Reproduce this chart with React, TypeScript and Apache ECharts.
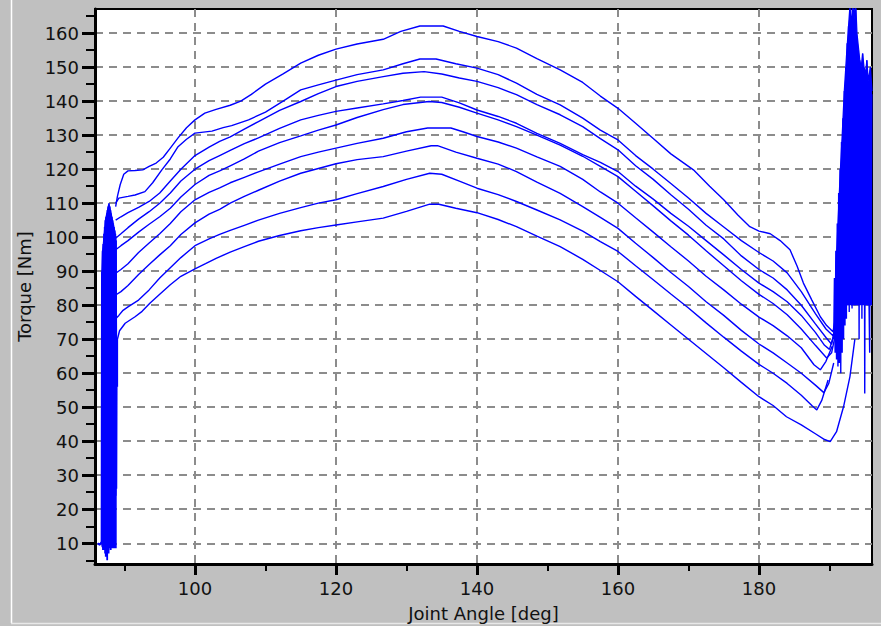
import React, { useEffect, useRef } from "react";
import * as echarts from "echarts";

// ---- axis ticks ----
const X_MAJOR = [100, 120, 140, 160, 180];
const X_MINOR = [90, 110, 130, 150, 170, 190];
const Y_MAJOR = [10, 20, 30, 40, 50, 60, 70, 80, 90, 100, 110, 120, 130, 140, 150, 160];
const Y_MINOR = [5, 15, 25, 35, 45, 55, 65, 75, 85, 95, 105, 115, 125, 135, 145, 155, 165];
const X_MIN = 85.82;
const X_MAX = 196.03;
const Y_MIN = 3.9;
const Y_MAX = 167.1;

// ---- torque curves: [joint angle deg, torque Nm] ----
const curve1 = [
  [88.75, 109], [89.0, 112], [89.4, 115.5], [89.9, 118.5], [90.5, 119.5], [91.5, 119.6], [92.6, 119.8],
  [93.5, 120.8], [94.5, 121.8], [95.5, 123.5], [96.5, 126.2], [97.6, 129.2], [98.8, 132.2], [100, 134.5],
  [101.4, 136.5], [103, 137.6], [105, 138.8], [106.5, 140], [108, 142], [110, 145], [112.5, 148],
  [115, 151.2], [117.5, 153.5], [120, 155.3], [123, 156.8], [126.7, 158.2], [129.2, 160.5], [131.9, 162.1],
  [135.2, 162.1], [137.5, 160.5], [140, 159], [143, 157.5], [145.6, 155.6], [148.5, 152.5], [151.8, 149.2],
  [155, 145.5], [157.5, 141.5], [160, 137.9], [162.5, 133.5], [165, 129], [167.5, 124.5], [170.7, 119.8],
  [173, 115], [175, 111], [177, 106.5], [178.7, 103.1], [180, 101.8], [181.6, 101], [183, 99], [184.4, 96.3],
  [185.4, 91.5], [186.3, 86.5], [187.5, 81.5], [188.7, 76.6], [189.6, 74], [190.5, 72.2], [191, 78],
];
const curve2 = [
  [88.75, 110], [89.2, 111.5], [90.5, 112], [91.5, 112.4], [92.9, 113.4], [94, 116], [95.3, 119.8],
  [96.5, 123], [97.6, 126.6], [98.8, 128.8], [100, 130.6], [102.4, 131.2], [104, 132.2], [105.2, 132.8],
  [107.6, 134.5], [110, 136.8], [112.5, 140], [115, 143.3], [117.5, 144.8], [120, 146.2], [123, 147.8],
  [126.7, 149.2], [129.5, 151], [131.9, 152.4], [134.2, 152.4], [137, 151], [140, 149.7], [143, 147.8],
  [145.6, 145.3], [148.5, 142], [151.8, 138.9], [155, 135], [157.5, 131.5], [160, 128.6], [162.5, 124],
  [165, 120], [167.5, 115.8], [170, 111.5], [172.5, 107], [175, 103], [177.5, 99], [180, 95.5], [182, 93],
  [184, 89.5], [186, 84], [188, 77.5], [189.5, 73], [190.5, 71], [191, 75],
];
const curve3 = [
  [88.75, 105], [89.5, 106], [90.5, 107.2], [92, 108.8], [93.5, 110.5], [95, 113], [96.5, 116.5], [98, 120],
  [100, 124], [102, 126.5], [103.5, 128.2], [105, 129.5], [107, 131.8], [109, 134], [112, 137.3], [115, 139.9],
  [117.5, 142.2], [120, 144.3], [123, 145.8], [126.7, 147.2], [129.5, 148.2], [132.5, 148.7], [135, 148],
  [137.5, 146.8], [140, 145.8], [143, 144], [145.6, 141.9], [148.5, 139], [151.8, 136], [155, 132.5],
  [157.5, 129], [160, 125.7], [162.5, 121], [165, 117], [167.5, 112.5], [170, 108.2], [172.5, 103.5],
  [175, 99.5], [177.5, 94.5], [180, 90.5], [182, 88], [184, 84.5], [186, 80], [188, 74.5], [189.5, 70.5],
  [190.3, 68.5], [190.9, 74],
];
const curve4 = [
  [88.75, 99.7], [89.5, 101], [90.5, 102.8], [92, 105.3], [93.5, 107.5], [95, 110], [96.5, 113], [98, 116.5],
  [100, 120], [102, 122.5], [103.5, 124], [105, 125.5], [107, 127.5], [109, 129.2], [112, 132], [115, 134.5],
  [117.5, 135.8], [120, 137], [123, 138], [126.7, 139.2], [129.5, 140.2], [132, 141.2], [135, 141.2],
  [137.5, 139.5], [140, 137.4], [143, 135.5], [145.6, 133.5], [148.5, 130.5], [151.8, 127.6], [155, 124.3],
  [157.5, 122], [160, 119.3], [162.5, 115], [165, 111.2], [167.5, 107], [170, 103.2], [172.5, 99], [175, 94.8],
  [177.5, 90.5], [180, 86.5], [182, 84], [184, 81], [186, 77], [188, 72], [189.3, 68.2], [190, 67], [190.7, 72],
];
const curve5 = [
  [88.75, 96.3], [89.5, 97.5], [90.5, 99], [92, 101.5], [93.5, 103.8], [95, 106], [96.5, 108.5], [98, 111.8],
  [100, 115.5], [102, 118.2], [103.5, 119.5], [105, 121], [107, 123], [109, 125.3], [112, 127.8], [115, 129.8],
  [117.5, 131.5], [120, 133], [123, 135.2], [126.7, 137.5], [129.5, 139], [133.2, 139.9], [135, 139.6],
  [137.5, 138.2], [140, 136.5], [143, 134.5], [145.6, 132.5], [148.5, 130], [151.8, 127.1], [155, 123.8],
  [157.5, 120.8], [160, 117.8], [162.5, 113.5], [165, 109.2], [167.5, 104.8], [170, 100.6], [172.5, 96],
  [175, 91.6], [177.5, 87.2], [180, 83.2], [182, 80.5], [184, 77.2], [186, 73], [188, 68.2], [189.6, 64.5],
  [190.3, 66], [190.8, 71],
];
const curve6 = [
  [88.75, 89.4], [89.5, 90.5], [90.5, 92.2], [92, 95.5], [93.5, 98.3], [95, 101], [96.5, 104], [98, 107.5],
  [100, 111], [102, 113.2], [103.5, 114.5], [105, 116], [107, 117.6], [109, 119.2], [112, 121.5], [115, 123.7],
  [117.5, 125], [120, 126.2], [123, 127.6], [126.7, 129.1], [130, 131], [133, 132.1], [136.3, 132.1],
  [138, 131], [140, 129.6], [143, 128], [145.6, 126.2], [148.5, 123.6], [151.8, 120.8], [155, 117],
  [157.5, 113.3], [160, 110], [162.5, 105.7], [165, 101.5], [167.5, 97.2], [170, 93], [172.5, 88.5],
  [175, 84.5], [177.5, 80.3], [180, 76.5], [182, 74], [184, 71], [186, 67.5], [187.8, 62.5], [188.7, 61],
  [189.5, 63.5], [190.4, 68],
];
const curve7 = [
  [88.75, 83], [89.5, 84], [90.5, 85.8], [92, 89], [93.5, 92], [95, 94.8], [96.5, 97.5], [98, 100.8],
  [100, 104.2], [102, 106.8], [103.5, 108.2], [105, 110], [107, 112], [109, 113.8], [112, 116.5], [115, 118.8],
  [117.5, 120.2], [120, 121.6], [123, 122.8], [126.7, 123.7], [130, 125.3], [133.5, 126.9], [134.4, 126.9],
  [137, 125], [140, 123.2], [143, 121.5], [145.6, 119.3], [148.5, 116.2], [151.8, 112.9], [155, 109],
  [157.5, 105.8], [160, 102.6], [162.5, 98.2], [165, 94], [167.5, 89.6], [170, 85.5], [172.5, 81], [175, 77],
  [177.5, 72.6], [180, 68.6], [182, 66], [184, 63], [186, 60], [188, 56.5], [189.2, 54.3], [189.9, 57],
  [190.6, 63],
];
const curve8 = [
  [88.75, 76], [89.2, 77], [89.8, 78.5], [90.5, 79.5], [92, 81.5], [93.5, 84.5], [95, 88], [96.5, 91], [98, 94],
  [100, 97.5], [102, 99.5], [103.5, 100.8], [105, 102], [107, 103.5], [109, 105], [112, 107], [115, 108.7],
  [117.5, 110], [120, 111], [123, 112.8], [126.7, 114.9], [130, 117], [133.3, 118.8], [135, 118.5],
  [137.5, 116.5], [140, 114.4], [143, 112.5], [145.6, 110.5], [148.5, 108], [151.8, 105.1], [155, 101.8],
  [157.5, 98.7], [160, 95.8], [162.5, 91.6], [165, 87.5], [167.5, 83.3], [170, 79.2], [172.5, 74.8],
  [175, 70.6], [177.5, 66.5], [180, 62.6], [182, 60], [184, 57], [186, 53.5], [187.5, 50.5], [188.2, 49.2],
  [188.9, 52], [189.8, 58],
];
const curve9 = [
  [89.0, 56], [89.0, 70], [89.3, 72.5], [90.1, 74.7], [91.5, 76.6], [92.5, 78.2], [93.6, 80.6], [95, 83.2],
  [96.5, 86], [98, 88.5], [100, 90.7], [101.5, 92.2], [103, 93.8], [105, 95.6], [107, 97.2], [109, 98.8],
  [112, 100.5], [115, 101.9], [117.5, 102.8], [120, 103.6], [123, 104.5], [126.7, 105.6], [130, 107.6],
  [133.3, 109.7], [134.6, 109.7], [137, 108.5], [140, 107.2], [143, 105.2], [145.6, 103.1], [148.5, 100.3],
  [151.8, 97.2], [155, 93.5], [157.5, 90.2], [160, 86.9], [162.5, 82.6], [165, 78.4], [167.5, 74.2], [170, 70],
  [172.5, 65.8], [175, 61.6], [177.5, 57.3], [180, 53.1], [182, 50.5], [183.9, 47.2], [186, 44.8], [188, 42.2],
  [189.3, 40.5], [190.1, 39.9], [191, 42.8], [192, 50.2], [192.9, 59], [193.6, 70],
];

// ---- oscillation at start and end of the movement (individual swings) ----
const startOscillation = [
  [86.2, 10], [86.5, 9.5], [86.75, 10.5], [86.8, 90], [86.85, 9], [86.9, 96], [86.95, 8], [87.0, 98],
  [87.05, 9], [87.1, 101], [87.15, 8], [87.2, 103], [87.25, 7], [87.3, 105], [87.35, 6], [87.4, 106],
  [87.45, 9], [87.5, 107], [87.55, 5], [87.6, 108], [87.65, 8], [87.7, 109], [87.75, 7], [87.8, 110],
  [87.85, 9], [87.9, 109], [87.95, 10], [88.0, 108], [88.05, 8], [88.1, 107], [88.15, 11], [88.2, 106],
  [88.25, 9], [88.3, 105], [88.35, 10], [88.4, 104], [88.45, 12], [88.5, 103], [88.55, 10], [88.6, 102],
  [88.65, 18], [88.7, 101], [88.75, 24], [88.8, 99], [88.85, 26], [88.9, 60],
];
const endOscillation = [
  [190.6, 70], [190.7, 88], [190.8, 66], [190.9, 96], [191.0, 64], [191.1, 104], [191.2, 62], [191.3, 113],
  [191.4, 63], [191.5, 120], [191.6, 60], [191.7, 128], [191.8, 66], [191.9, 135], [192.0, 70], [192.1, 143],
  [192.2, 74], [192.3, 150], [192.4, 76], [192.5, 157], [192.6, 80], [192.7, 162], [192.8, 78], [192.9, 168],
  [193.0, 82], [193.1, 160], [193.2, 79], [193.3, 170], [193.4, 84], [193.5, 163], [193.6, 80], [193.7, 170],
  [193.8, 83], [193.9, 158], [194.0, 81], [194.1, 155], [194.2, 70], [194.3, 152], [194.4, 82], [194.5, 150],
  [194.6, 76], [194.7, 154], [194.8, 82], [194.9, 150], [195.0, 54], [195.1, 148], [195.2, 83], [195.3, 152],
  [195.4, 80], [195.5, 145], [195.6, 82], [195.7, 66], [195.8, 150], [195.9, 84], [196.0, 142],
];
// ---- peak envelope of each oscillation band (the dense blue block) ----
const startEnvelope = [
  [86.8, 90], [86.9, 96], [87.0, 98], [87.15, 101.5], [87.3, 105], [87.45, 106.5], [87.6, 108],
  [87.75, 109.5], [87.9, 109], [88.05, 107.5], [88.2, 106], [88.35, 104.5], [88.5, 103], [88.65, 101.5],
  [88.8, 99], [88.9, 60],
];
const endEnvelope = [
  [190.9, 90], [191.2, 104], [191.5, 118], [191.8, 130], [192.1, 143], [192.4, 153], [192.7, 162],
  [192.9, 168], [193.1, 162], [193.3, 170], [193.5, 164], [193.7, 170], [193.9, 160], [194.1, 156],
  [194.3, 152], [194.5, 150], [194.7, 154], [194.9, 150], [195.1, 148], [195.3, 152], [195.5, 146],
  [195.8, 150], [196.03, 143],
];
// torque level down to which each band is dense
const START_BAND_BASE = 8.5;
const END_BAND_BASE = 80;

const CURVES = [curve1, curve2, curve3, curve4, curve5, curve6, curve7, curve8, curve9];

const FONT = "'DejaVu Sans', Verdana, sans-serif";

export default function App() {
  const ref = useRef<HTMLDivElement>(null);
  useEffect(() => {
    if (!ref.current) return;
    const chart = echarts.init(ref.current, null, { renderer: "svg" });
    const textStyle = { fontFamily: FONT, fontSize: 18, color: "#111" };
    const gridLine = { show: true, lineStyle: { color: "#8c8c8c", width: 2, type: [8, 6] } };
    const mk = (d: number[][], name: string, w: number, base?: number) => ({
      type: "line",
      name,
      xAxisIndex: 0,
      yAxisIndex: 0,
      data: d,
      showSymbol: false,
      symbol: "none",
      clip: true,
      silent: true,
      emphasis: { disabled: true },
      lineStyle: { color: "#0000ff", width: w },
      ...(base !== undefined ? { areaStyle: { color: "#0000ff", opacity: 1, origin: base } } : {}),
    });
    chart.setOption({
      animation: false,
      backgroundColor: "#c0c0c0",
      grid: {
        left: 95, top: 9, width: 777, height: 555, show: true, backgroundColor: "#ffffff",
        borderColor: "#000", borderWidth: 2, containLabel: false, outerBoundsMode: "none",
      },
      graphic: [
        { type: "line", shape: { x1: 11.5, y1: 0, x2: 11.5, y2: 623 }, style: { stroke: "#ffffff", lineWidth: 1.5 }, silent: true },
        { type: "line", shape: { x1: 11, y1: 623.5, x2: 881, y2: 623.5 }, style: { stroke: "#e8e8e8", lineWidth: 1.5 }, silent: true },
      ],
      xAxis: [
        {
          type: "value", min: X_MIN, max: X_MAX, position: "bottom",
          name: "Joint Angle [deg]", nameLocation: "middle", nameGap: 40, nameTextStyle: textStyle,
          axisLine: { show: true, onZero: false, lineStyle: { color: "#000", width: 3 } },
          axisTick: { show: true, customValues: X_MAJOR, length: 11, lineStyle: { color: "#000", width: 3 } },
          axisLabel: { show: true, customValues: X_MAJOR, margin: 15, ...textStyle },
          splitLine: gridLine,
        },
        {
          type: "value", min: X_MIN, max: X_MAX, position: "bottom",
          axisLine: { show: false, onZero: false },
          axisTick: { show: true, customValues: X_MINOR, length: 7, lineStyle: { color: "#000", width: 2 } },
          axisLabel: { show: false }, splitLine: { show: false },
        },
      ],
      yAxis: [
        {
          type: "value", min: Y_MIN, max: Y_MAX, position: "left",
          name: "Torque [Nm]", nameLocation: "middle", nameGap: 53, nameTextStyle: textStyle,
          axisLine: { show: true, onZero: false, lineStyle: { color: "#000", width: 3 } },
          axisTick: { show: true, customValues: Y_MAJOR, length: 13, lineStyle: { color: "#000", width: 3 } },
          axisLabel: { show: true, customValues: Y_MAJOR, margin: 16, ...textStyle },
          splitLine: gridLine,
        },
        {
          type: "value", min: Y_MIN, max: Y_MAX, position: "left",
          axisLine: { show: false, onZero: false },
          axisTick: { show: true, customValues: Y_MINOR, length: 9, lineStyle: { color: "#000", width: 2 } },
          axisLabel: { show: false }, splitLine: { show: false },
        },
      ],
      series: [
        mk(startEnvelope, "start band", 1.2, START_BAND_BASE),
        mk(endEnvelope, "end band", 1.2, END_BAND_BASE),
        ...CURVES.map((d, i) => mk(d, "trace " + (i + 1), 1.4)),
        mk(startOscillation, "start oscillation", 1.8),
        mk(endOscillation, "end oscillation", 1.4),
      ],
    });
    return () => chart.dispose();
  }, []);
  return <div ref={ref} style={{ position: "fixed", left: 0, top: 0, width: 881, height: 626 }} />;
}
